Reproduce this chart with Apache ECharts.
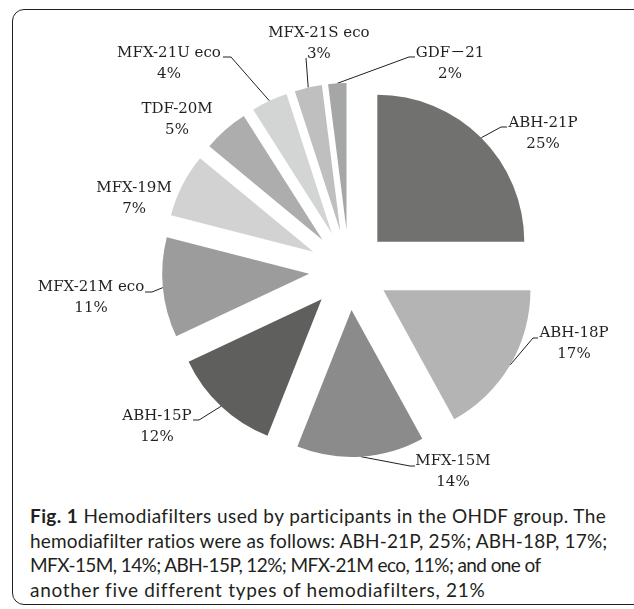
<!DOCTYPE html>
<html>
<head>
<meta charset="utf-8">
<script src="https://cdn.jsdelivr.net/npm/echarts@6/dist/echarts.min.js"></script>
<style>
  html, body { margin: 0; padding: 0; background: #fff; }
  body { width: 634px; height: 609px; position: relative; overflow: hidden; }
  #frame {
    position: absolute; left: 12px; top: 9px; width: 640px; height: 596px;
    border: 1.6px solid #231f20; border-radius: 12px; box-sizing: border-box;
  }
  #chart { position: absolute; left: 0; top: 0; width: 634px; height: 500px; }
  #caption {
    position: absolute; left: 30px; top: 504px; white-space: nowrap;
    font-family: Lato, "Open Sans", sans-serif; font-size: 19px; line-height: 24.5px;
    color: #231f20;
  }
  #caption b { font-weight: 700; }
</style>
</head>
<body>
<div id="frame"></div>
<div id="chart"></div>
<div id="caption">
  <div style="letter-spacing:0.4px"><b>Fig. 1</b> Hemodiafilters used by participants in the OHDF group. The</div>
  <div style="letter-spacing:0.15px">hemodiafilter ratios were as follows: ABH-21P, 25%; ABH-18P, 17%;</div>
  <div style="letter-spacing:-0.6px">MFX-15M, 14%; ABH-15P, 12%; MFX-21M eco, 11%; and one of</div>
  <div style="letter-spacing:0.7px">another five different types of hemodiafilters, 21%</div>
</div>
<script>
// hemodiafilter types and their share (%)
const filters = ['ABH-21P', 'ABH-18P', 'MFX-15M', 'ABH-15P', 'MFX-21M eco',
  'MFX-19M', 'TDF-20M', 'MFX-21U eco', 'MFX-21S eco', 'GDF－21']
const shares = [25, 17, 14, 12, 11, 7, 5, 4, 3, 2]

const palette = ['#717170', '#b3b4b3', '#8b8b8b', '#5f5f5e', '#9b9c9b',
  '#d1d2d1', '#adadad', '#d3d5d4', '#bebfbe', '#a5a6a6']

const PIE_C = [349, 270]
const PIE_R = 147
const EXPLODE = 40
const LABEL_W = 120

// label placement: guide line lengths (move the label), and the elbow / end of the drawn leader
const leaders = [
  { length: 8.2, length2: -4, line: [[501, 127], [507, 127]] },
  { length: -45.5, length2: 43.2, line: [[533, 338], [538, 338]] },
  { length: 13.4, length2: 31.4, line: [[410, 466], [415, 466]] },
  { length: 25.6, length2: -13.5, line: [[199, 420], [193, 420]] },
  { length: 89.3, length2: -77.1, line: [[152, 292], [145, 292]] },
  { length: -26.2, length2: 11.7, line: null },
  { length: 15.6, length2: -22, line: null },
  { length: 42.9, length2: 22.1, line: [[231, 57], [223, 57]] },
  { length: 46.6, length2: -80.9, line: [[306, 58], [306, 58]] },
  { length: 21.4, length2: -174.1, line: [[409, 57], [415, 57]] }
]

const serif = "'DejaVu Serif', 'Noto Sans CJK JP', serif"
const textStyle = { fontFamily: serif, fontSize: 15, lineHeight: 20.5, color: '#231f20', align: 'center' }

const chart = echarts.init(document.getElementById('chart'))
chart.setOption({
  animation: false,
  color: palette,
  series: [
    {
      type: 'pie',
      center: PIE_C,
      radius: PIE_R,
      startAngle: 90,
      clockwise: true,
      selectedMode: 'multiple',
      selectedOffset: EXPLODE,
      avoidLabelOverlap: false,
      percentPrecision: 0,
      silent: true,
      emphasis: { disabled: true },
      itemStyle: { borderWidth: 0 },
      label: {
        show: true,
        position: 'outside',
        formatter: '{n|{b}}\n{p|{d}%}',
        width: LABEL_W,
        overflow: 'none',
        padding: [3, 0, 0, 0],
        distanceToLabelLine: 0,
        fontFamily: serif,
        fontSize: 15,
        color: '#231f20',
        rich: { n: textStyle, p: textStyle }
      },
      labelLine: { show: true, lineStyle: { color: '#231f20', width: 1 } },
      labelLayout: function (params) {
        const spot = leaders[params.dataIndex]
        if (!spot.line || !params.labelLinePoints) return {}
        // the leader is shifted with the exploded slice, so take that shift back out
        const a = params.labelLinePoints[0]
        const k = EXPLODE / PIE_R
        const sx = (a[0] - PIE_C[0]) * k
        const sy = (a[1] - PIE_C[1]) * k
        return {
          labelLinePoints: [
            a,
            [spot.line[0][0] - sx, spot.line[0][1] - sy],
            [spot.line[1][0] - sx, spot.line[1][1] - sy]
          ]
        }
      },
      data: filters.map((name, i) => ({
        name: name,
        value: shares[i],
        selected: true,
        labelLine: { show: !!leaders[i].line, length: leaders[i].length, length2: leaders[i].length2 }
      }))
    }
  ]
})
</script>
</body>
</html>
